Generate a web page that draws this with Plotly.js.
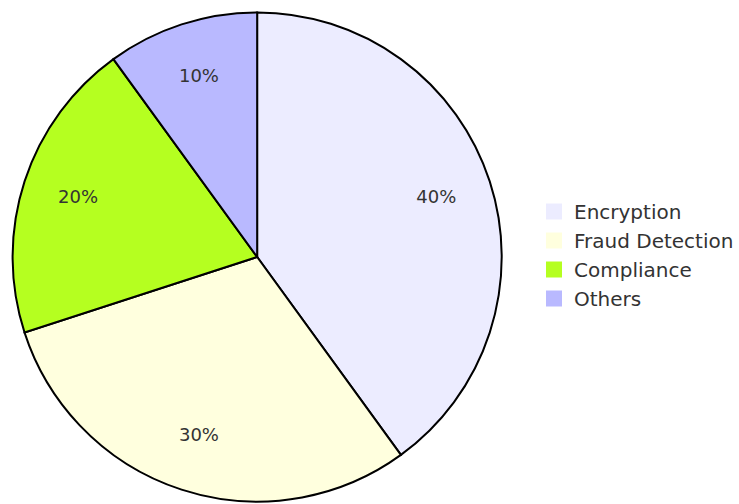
<!DOCTYPE html>
<html>
<head>
<meta charset="utf-8">
<script src="https://cdn.plot.ly/plotly-3.0.1.min.js"></script>
<style>html,body{margin:0;padding:0;background:#fff;}#chart{width:739px;height:504px;}</style>
</head>
<body>
<div id="chart"></div>
<script>
const categories = ["Encryption", "Fraud Detection", "Compliance", "Others"];
const values = [40, 30, 20, 10];
const colors = ["#ECECFF", "#FFFFDE", "#B5FF20", "#B9B9FF"];

const W = 739, H = 504;
const dom = { x: [10 / W, 505 / W], y: [0, 1 - 10 / H] };
const total = values.reduce((a, b) => a + b, 0);

// slice mid-angles and widths derived from the data (clockwise from top)
const thetas = [];
const widths = [];
const texts = [];
let cum = 0;
values.forEach(v => {
  thetas.push((cum + v / 2) / total * 360);
  widths.push(v / total * 360);
  texts.push(Math.round(v / total * 100) + "%");
  cum += v;
});

const traces = categories.map((c, i) => ({
  type: "barpolar",
  name: c,
  r: [1],
  theta: [thetas[i]],
  width: [widths[i]],
  base: 0,
  marker: { color: colors[i], line: { color: "#000000", width: 2 } },
  hoverinfo: "name",
  showlegend: false,
  subplot: "polar"
}));

traces.push({
  type: "scatterpolar",
  mode: "text",
  r: values.map(() => 0.77),
  theta: thetas,
  text: texts,
  textfont: { family: "DejaVu Sans, Verdana, sans-serif", size: 18, color: "#333333" },
  showlegend: false,
  hoverinfo: "skip",
  subplot: "polar"
});

// legend swatches (no data points, legend only)
categories.forEach((c, i) => {
  traces.push({
    type: "scatterpolar",
    mode: "markers",
    name: c,
    r: [null],
    theta: [null],
    marker: { symbol: "square", size: 16, color: colors[i], line: { width: 0 } },
    hoverinfo: "skip",
    showlegend: true,
    subplot: "polar"
  });
});

const layout = {
  width: W,
  height: H,
  margin: { l: 0, r: 0, t: 0, b: 0 },
  paper_bgcolor: "#ffffff",
  showlegend: true,
  polar: {
    domain: dom,
    bgcolor: "rgba(0,0,0,0)",
    bargap: 0,
    radialaxis: { range: [0, 1.01], visible: false, showgrid: false, showline: false, showticklabels: false },
    angularaxis: { rotation: 90, direction: "clockwise", visible: false, showgrid: false, showline: false, showticklabels: false }
  },
  legend: {
    x: 535 / W, xanchor: "left",
    y: 1 - 192 / H, yanchor: "top",
    font: { family: "DejaVu Sans, Verdana, sans-serif", size: 20, color: "#333333" },
    bgcolor: "rgba(0,0,0,0)",
    traceorder: "normal",
    itemsizing: "trace"
  }
};

Plotly.newPlot("chart", traces, layout, { displayModeBar: false, staticPlot: true });
</script>
</body>
</html>
